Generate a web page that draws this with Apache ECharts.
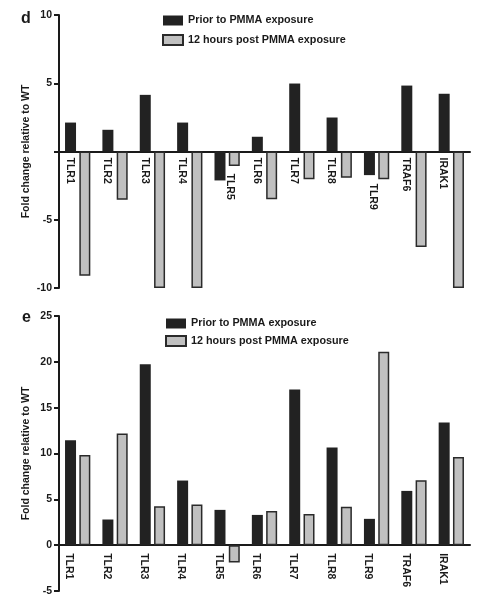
<!DOCTYPE html>
<html><head><meta charset="utf-8">
<script src="https://cdn.jsdelivr.net/npm/echarts@6/dist/echarts.min.js"></script>
<style>html,body{margin:0;padding:0;background:#fff}#c{width:481px;height:600px}</style>
</head><body><div id="c"></div>
<script>
const categories = ['TLR1','TLR2','TLR3','TLR4','TLR5','TLR6','TLR7','TLR8','TLR9','TRAF6','IRAK1'];
const seriesNames = ['Prior to PMMA exposure','12 hours post PMMA exposure'];
const priorD = [2.12,1.59,4.15,2.12,-2.12,1.08,4.98,2.49,-1.73,4.83,4.23];
const postD = [-9.1,-3.54,-10,-10,-1.07,-3.49,-2.03,-1.93,-2.03,-7.0,-10];
const priorE = [11.45,2.8,19.74,7.05,3.85,3.3,16.98,10.65,2.87,5.92,13.38];
const postE = [9.85,12.18,4.25,4.44,-1.9,3.74,3.41,4.18,21.1,7.09,9.63];
const yRangeD = [-10, 10];
const yRangeE = [-5, 25];
const panelLetters = ['d','e'];
const yName = 'Fold change relative to WT';

const FONT = 'Liberation Sans, Arial, sans-serif';
const INK = '#1a1a1a';
const darkStyle = {color:'#222222'};
const greyStyle = {color:'#c0c0c0', borderColor:'#2a2a2a', borderWidth:1.5};

const chart = echarts.init(document.getElementById('c'), null, {renderer:'canvas'});

function xAxis(gridIndex, rich, fmt, margin, offset){
  return {
    type:'category', gridIndex, data:categories, position:'bottom', offset,
    axisLine:{onZero:false, lineStyle:{color:INK, width:2}},
    axisTick:{alignWithLabel:true, length:4, lineStyle:{color:INK, width:1.5}},
    axisLabel:{rotate:-90, margin, color:INK, fontFamily:FONT, fontWeight:'bold', fontSize:10.5,
      interval:0, formatter:fmt, rich},
    splitLine:{show:false}
  };
}
function yAxis(gridIndex, range, hideZero){
  return {
    type:'value', gridIndex, min:range[0], max:range[1], interval:5,
    name:yName, nameLocation:'middle', nameGap:27, nameMoveOverlap:false,
    nameTextStyle:{color:INK, fontFamily:FONT, fontWeight:'bold', fontSize:10.5},
    axisLine:{show:true, onZero:false, lineStyle:{color:INK, width:2}},
    axisTick:{show:true, length:5, lineStyle:{color:INK, width:2}},
    axisLabel:{color:INK, fontFamily:FONT, fontWeight:'bold', fontSize:10.5, margin:7,
      formatter:v => (hideZero && v===0) ? '' : String(v)},
    splitLine:{show:false}
  };
}
const labelFont = {fontFamily:FONT, fontWeight:'bold', fontSize:10.5, color:INK};
const richD = {
  n: Object.assign({padding:[16,0,0,0]}, labelFont),
  p5: Object.assign({padding:[0,0,6,16]}, labelFont),
  p9: Object.assign({padding:[8,0,0,26]}, labelFont)
};
const richE = { n: Object.assign({padding:[17,0,0,0]}, labelFont) };
const fmtD = v => v==='TLR5' ? '{p5|'+v+'}' : v==='TLR9' ? '{p9|'+v+'}' : '{n|'+v+'}';
const fmtE = v => '{n|'+v+'}';

function legend(left, top, gap){
  return {left, top, orient:'vertical', itemWidth:20, itemHeight:10, itemGap:gap,
    data:seriesNames, icon:'rect',
    textStyle:{color:INK, fontFamily:FONT, fontWeight:'bold', fontSize:10.8}};
}
function bars(name, data, xi, style){
  return {type:'bar', name, data, xAxisIndex:xi, yAxisIndex:xi, barWidth:11, barGap:'30%',
    itemStyle:style, emphasis:{disabled:true}};
}
const grids = [
  {left:59, right:11, top:15, height:273, containLabel:false, outerBoundsMode:'none'},
  {left:59, right:11, top:316, height:275, containLabel:false, outerBoundsMode:'none'}
];

function build(offsets){
  return {
    animation:false,
    backgroundColor:'#ffffff',
    title:[
      {text:panelLetters[0], left:16, top:6, textStyle:{fontFamily:FONT, fontWeight:'bold', fontSize:16, color:INK}},
      {text:panelLetters[1], left:17, top:305, textStyle:{fontFamily:FONT, fontWeight:'bold', fontSize:16, color:INK}}
    ],
    legend:[legend(157, 10, 8), legend(160, 313, 6)],
    grid:grids,
    xAxis:[xAxis(0, richD, fmtD, 6, offsets[0]), xAxis(1, richE, fmtE, 8, offsets[1])],
    yAxis:[yAxis(0, yRangeD, true), yAxis(1, yRangeE, false)],
    series:[
      bars(seriesNames[0], priorD, 0, darkStyle),
      bars(seriesNames[1], postD, 0, greyStyle),
      bars(seriesNames[0], priorE, 1, darkStyle),
      bars(seriesNames[1], postE, 1, greyStyle)
    ]
  };
}
chart.setOption(build([0,0]));
// place each category axis on the value axis's zero line, using the library's own scale
const offs = [0,1].map(i => {
  const zeroPx = chart.convertToPixel({yAxisIndex:i}, 0);
  const bottomPx = chart.convertToPixel({yAxisIndex:i}, i===0 ? yRangeD[0] : yRangeE[0]);
  return zeroPx - bottomPx;
});
chart.setOption(build(offs));
</script></body></html>
